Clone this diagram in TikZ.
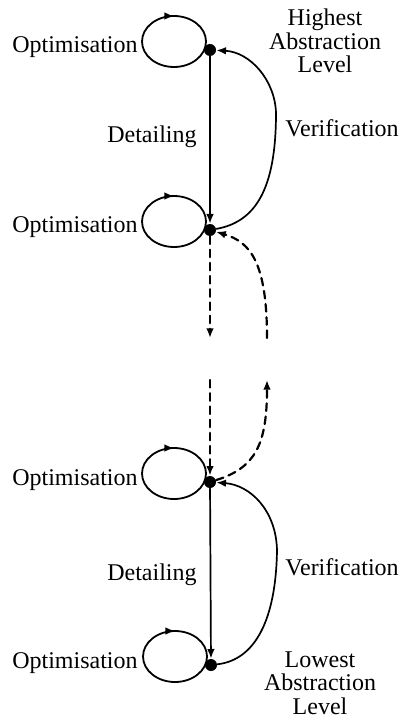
\documentclass[tikz,border=0pt]{standalone}
\usepackage{fontspec}
\setmainfont{Liberation Serif}
\usetikzlibrary{arrows.meta,decorations.markings}

\begin{document}
\begin{tikzpicture}[line cap=round,line join=round,x=0.5pt,y=0.5pt,
	lvl/.style={circle,fill=black,inner sep=0pt,minimum size=6pt},
	lab/.style={font=\fontsize{12}{11.75}\selectfont,inner sep=0pt},
	tip/.style={-{Latex[length=4.8pt,width=3.8pt]}},
	det/.style={line width=0.85pt,tip},
	ver/.style={line width=0.85pt,tip},
	dsh/.style={line width=1.1pt,dash pattern=on 3.8pt off 2.8pt,tip},
	opt/.style={line width=0.9pt,postaction={decorate},
		decoration={markings,mark=at position 0.25 with {\arrow{Latex[length=4.8pt,width=3.8pt]}}}}]
				\useasboundingbox (0,0) rectangle (405,-727);
				% abstraction levels
				\node[lvl] (d1) at (210,-50) {};
				\node[lvl] (d2) at (210,-230) {};
				\node[lvl] (d3) at (210,-482) {};
				\node[lvl] (d4) at (211,-665) {};
				\coordinate (dn) at (210,-338);
				\coordinate (up) at (210,-380);
				\coordinate (r1) at (267,-380);
				\coordinate (r2) at (267,-338);
				\coordinate (v1) at (276,-113);
				\coordinate (v2) at (277,-550);
				% optimisation loops
				\foreach \d in {d1,d2,d3,d4}
					\draw[opt] ([shift={(-68,8.5)}]\d.center) arc[start angle=180,end angle=-180,x radius=16pt,y radius=12.75pt];
				\draw[det] (d1) -- (d2);
				\draw[det] (d3) -- (d4);
				\draw[dsh] (d2) -- (dn);
				\draw[dsh] (up) -- (d3);
				\draw[dsh] (d3) .. controls (255,-468) and (267,-445) .. (r1);
				\draw[dsh] (r2) .. controls (267,-262) and (250,-242) .. (d2);
				\draw[ver] (d2) .. controls (255,-222) and (276,-190) .. (v1) .. controls (275,-80) and (250,-52) .. (d1);
				\draw[ver] (d4) .. controls (255,-660) and (276,-620) .. (v2) .. controls (276,-510) and (250,-485) .. (d3);
				% labels
				\node[lab,anchor=base east] (o1) at (138,-53) {Optimisation};
				\node[lab,anchor=base east] (o2) at (138,-233) {Optimisation};
				\node[lab,anchor=base east] (o3) at (138,-485) {Optimisation};
				\node[lab,anchor=base east] (o4) at (138,-668) {Optimisation};
				\node[lab,anchor=base east] (t1) at (197,-143) {Detailing};
				\node[lab,anchor=base east] (t2) at (197,-580) {Detailing};
				\node[lab,anchor=base west] (w1) at (285,-137) {Verification};
				\node[lab,anchor=base west] (w2) at (285,-575) {Verification};
				\node[lab,align=center] (hi) at (325,-41) {Highest\\Abstraction\\Level};
				\node[lab,align=center] (lo) at (320,-683) {Lowest\\Abstraction\\Level};
\end{tikzpicture}
\end{document}
